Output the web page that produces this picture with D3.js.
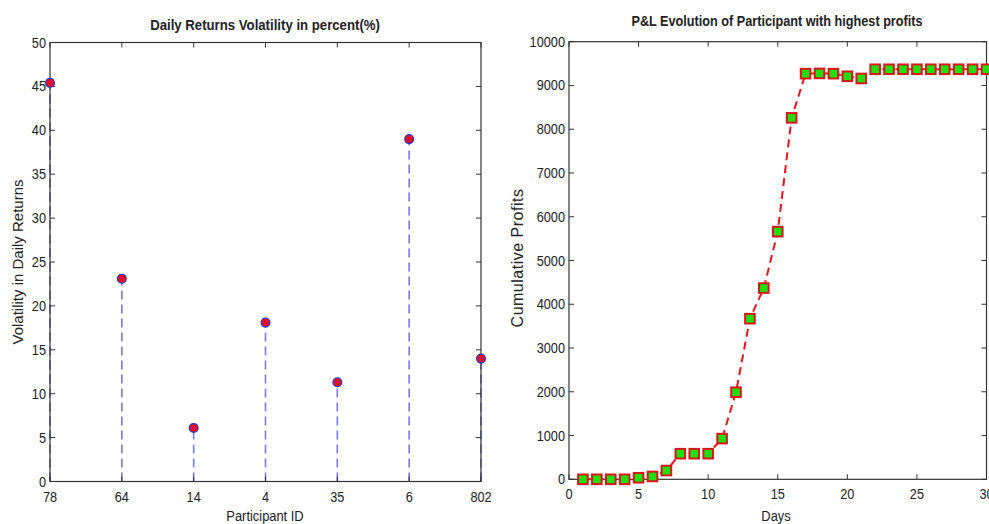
<!DOCTYPE html>
<html>
<head>
<meta charset="utf-8">
<script src="https://cdn.jsdelivr.net/npm/d3@7"></script>
<style>
  html, body { margin: 0; padding: 0; background: #fff; }
  svg { display: block; }
  text { font-family: "Liberation Sans", Arial, sans-serif; fill: #222; }
</style>
</head>
<body>
<svg id="chart" width="989" height="524"></svg>
<script>
// Left panel: volatility of daily returns per participant
const participants = ["78", "64", "14", "4", "35", "6", "802"];
const volatility = [45.4, 23.1, 6.1, 18.1, 11.3, 39.0, 14.0];
const volTicks = [0, 5, 10, 15, 20, 25, 30, 35, 40, 45, 50];

// Right panel: cumulative P&L by day
const days = d3.range(1, 31);
const cumProfit = [0, 0, 0, 0, 35, 65, 200, 585, 585, 585, 930, 1990, 3670, 4370, 5660, 8260,
                   9270, 9275, 9270, 9210, 9160, 9370, 9370, 9370, 9370, 9370, 9370, 9370, 9370, 9370];
const dayTicks = [0, 5, 10, 15, 20, 25, 30];
const profitTicks = d3.range(0, 10001, 1000);

const svg = d3.select("#chart");
const TICK = 5;
const NARROW = 0.85;

// condensed text placed at (px, py)
function narrowText(g, px, py, str, size, anchor, opts = {}) {
  const t = g.append("text")
    .attr("transform", `translate(${px},${py}) scale(${opts.sx || NARROW},1)`)
    .attr("text-anchor", anchor).attr("font-size", size).text(str);
  if (opts.bold) t.attr("font-weight", "bold");
  if (opts.fill) t.attr("fill", opts.fill);
  return t;
}

function boxAxes(g, x, y, xTicks, yTicks, xFmt, yFmt) {
  const [x0, x1] = x.range();
  const [y0, y1] = y.range();
  const ax = g.append("g");
  ax.append("rect").attr("x", x0).attr("y", y1).attr("width", x1 - x0).attr("height", y0 - y1)
    .attr("fill", "none").attr("stroke", "#333").attr("stroke-width", 1.2);
  xTicks.forEach((t, i) => {
    const px = x(t);
    ax.append("line").attr("x1", px).attr("x2", px).attr("y1", y0).attr("y2", y0 - TICK).attr("stroke", "#333");
    ax.append("line").attr("x1", px).attr("x2", px).attr("y1", y1).attr("y2", y1 + TICK).attr("stroke", "#333");
    narrowText(ax, px, y0 + 20, xFmt(t, i), 15, "middle");
  });
  yTicks.forEach(t => {
    const py = y(t);
    ax.append("line").attr("x1", x0).attr("x2", x0 + TICK).attr("y1", py).attr("y2", py).attr("stroke", "#333");
    ax.append("line").attr("x1", x1).attr("x2", x1 - TICK).attr("y1", py).attr("y2", py).attr("stroke", "#333");
    narrowText(ax, x0 - 4, py + 5, yFmt(t), 15, "end");
  });
}

// ---- Left panel (stem plot) ----
{
  const x = d3.scaleLinear().domain([1, participants.length]).range([50, 481]);
  const y = d3.scaleLinear().domain([0, 50]).range([481.5, 42.5]);
  const g = svg.append("g");

  g.selectAll("line.stem").data(volatility).join("line")
    .attr("class", "stem")
    .attr("x1", (d, i) => x(i + 1)).attr("x2", (d, i) => x(i + 1))
    .attr("y1", y(0)).attr("y2", d => y(d))
    .attr("stroke", "#7a7ad8").attr("stroke-width", 1.6).attr("stroke-dasharray", "9,5");

  boxAxes(g, x, y, d3.range(1, participants.length + 1), volTicks,
    (t, i) => participants[i], t => t);

  g.selectAll("circle.pt").data(volatility).join("circle")
    .attr("class", "pt")
    .attr("cx", (d, i) => x(i + 1)).attr("cy", d => y(d)).attr("r", 4.4)
    .attr("fill", "#e0102a").attr("stroke", "#3434b8").attr("stroke-width", 1.3);

  narrowText(g, 265, 30, "Daily Returns Volatility in percent(%)", 15, "middle", { bold: true, sx: 0.88 });
  narrowText(g, 265, 521, "Participant ID", 15, "middle", { fill: "#333", sx: 0.86 });
  g.append("text").attr("transform", "translate(23,262) rotate(-90)").attr("text-anchor", "middle")
    .attr("font-size", 15).attr("fill", "#333").text("Volatility in Daily Returns");
}

// ---- Right panel (P&L line) ----
{
  const x = d3.scaleLinear().domain([0, 30]).range([569, 986.5]);
  const y = d3.scaleLinear().domain([0, 10000]).range([479.3, 41.7]);
  const g = svg.append("g");

  boxAxes(g, x, y, dayTicks, profitTicks, t => t, t => t);

  const line = d3.line().x((d, i) => x(days[i])).y(d => y(d));
  g.append("path").datum(cumProfit).attr("d", line)
    .attr("fill", "none").attr("stroke", "#e8141a").attr("stroke-width", 2)
    .attr("stroke-dasharray", "8,5");

  g.selectAll("rect.pt").data(cumProfit).join("rect")
    .attr("class", "pt")
    .attr("x", (d, i) => x(days[i]) - 4.8).attr("y", d => y(d) - 4.8)
    .attr("width", 9.6).attr("height", 9.6)
    .attr("fill", "#22dd10").attr("stroke", "#d8181a").attr("stroke-width", 2);

  narrowText(g, 777, 26, "P&L Evolution of Participant with highest profits", 15, "middle", { bold: true, sx: 0.845 });
  narrowText(g, 776, 521, "Days", 15, "middle", { fill: "#333", sx: 0.86 });
  g.append("text").attr("transform", "translate(523,258) rotate(-90)").attr("text-anchor", "middle")
    .attr("font-size", 16).attr("fill", "#555").attr("letter-spacing", 0.5).text("Cumulative Profits");
}
</script>
</body>
</html>
